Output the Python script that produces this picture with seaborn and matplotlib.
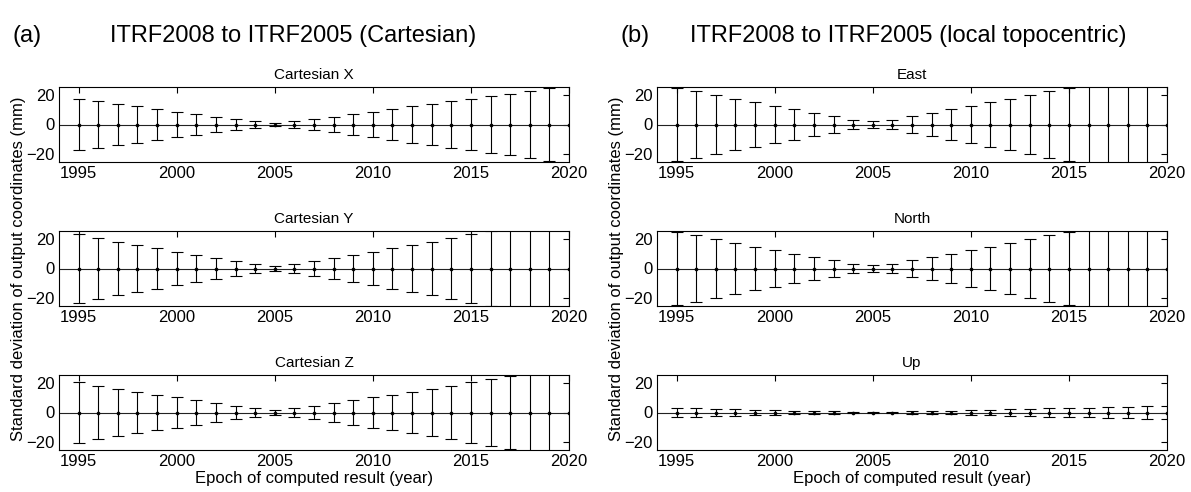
import numpy as np
import pandas as pd
import matplotlib
matplotlib.use("Agg")
import matplotlib.pyplot as plt
import seaborn as sns

# ---------------- data (standard deviations, mm) ----------------
years = list(range(1995, 2021))

cart_x = [17.7, 15.9, 14.1, 12.4, 10.6, 8.8, 7.1, 5.4, 3.7, 2.1, 1.3, 2.1, 3.7,
          5.4, 7.1, 8.8, 10.6, 12.4, 14.1, 15.9, 17.7, 19.4, 21.2, 23.0, 24.8, 26.5]
cart_y = [23.4, 20.8, 18.4, 16.1, 13.9, 11.6, 9.4, 7.2, 4.9, 3.1, 1.8, 3.1, 4.9,
          7.2, 9.4, 11.6, 13.9, 16.1, 18.4, 20.8, 23.4, 25.8, 28.0, 30.3, 32.6, 34.9]
cart_z = [20.7, 18.5, 16.4, 14.3, 12.3, 10.4, 8.4, 6.5, 4.6, 3.0, 1.7, 3.0, 4.6,
          6.5, 8.4, 10.4, 12.3, 14.3, 16.4, 18.5, 20.7, 22.8, 25.0, 27.1, 29.3, 31.4]
east = [25.3, 22.8, 20.1, 17.8, 15.2, 12.9, 10.4, 7.9, 5.7, 3.3, 2.7, 3.3, 5.7,
        7.9, 10.4, 12.9, 15.2, 17.8, 20.1, 22.8, 25.3, 27.9, 30.4, 33.0, 35.5, 38.1]
north = [25.3, 22.7, 19.9, 17.7, 15.0, 12.7, 10.2, 7.6, 5.5, 3.2, 2.5, 3.2, 5.5,
         7.6, 10.2, 12.7, 15.0, 17.7, 19.9, 22.7, 25.3, 27.9, 30.4, 33.0, 35.5, 38.1]
up = [3.1, 2.8, 2.5, 2.2, 1.9, 1.6, 1.3, 1.0, 0.7, 0.45, 0.3, 0.45, 0.7,
      1.0, 1.3, 1.6, 1.9, 2.2, 2.5, 2.8, 3.1, 3.4, 3.7, 4.0, 4.3, 4.6]

left_titles = ["Cartesian X", "Cartesian Y", "Cartesian Z"]
right_titles = ["East", "North", "Up"]
left_series = [cart_x, cart_y, cart_z]
right_series = [east, north, up]

xticks = [1995, 2000, 2005, 2010, 2015, 2020]
yticks = [-20, 0, 20]

# ---------------- style ----------------
sns.set_theme(style="white", rc={
    "axes.edgecolor": "black",
    "axes.linewidth": 0.8,
    "xtick.color": "black",
    "ytick.color": "black",
    "text.color": "black",
    "axes.labelcolor": "black",
})
plt.rcParams["font.family"] = ["Liberation Sans", "DejaVu Sans"]

W, H = 1191, 492
fig = plt.figure(figsize=(W / 100, H / 100), dpi=100)

ax_w = 510
ax_h = 75
col_x = [59, 657]
row_top = [87, 231, 375]


def make_ax(px, top):
    return fig.add_axes([px / W, 1 - (top + ax_h) / H, ax_w / W, ax_h / H])


def draw(ax, series, title, bottom_row):
    df = pd.DataFrame({"year": years, "zero": [0.0] * len(years), "sd": series})
    ax.axhline(0, color="#222222", lw=0.8, zorder=1)
    ax.errorbar(df["year"], df["zero"], yerr=df["sd"], fmt="none",
                ecolor="black", elinewidth=0.8, capsize=4.4, capthick=0.8,
                zorder=2)
    sns.scatterplot(data=df, x="year", y="zero", ax=ax, color="black",
                    s=7, linewidth=0, zorder=3, legend=False)
    ax.set_xlim(1994.0, 2020)
    ax.set_ylim(-25.7, 25.7)
    ax.set_xticks(xticks)
    ax.set_yticks(yticks)
    ax.tick_params(direction="in", top=True, right=True, length=4, width=0.8,
                   labelsize=12, pad=3)
    ax.set_title(title, fontsize=11, pad=6)
    ax.set_ylabel("")
    if bottom_row:
        ax.set_xlabel("Epoch of computed result (year)", fontsize=12, labelpad=1)
    else:
        ax.set_xlabel("")


for c, (series_list, titles) in enumerate([(left_series, left_titles),
                                            (right_series, right_titles)]):
    for r in range(3):
        ax = make_ax(col_x[c], row_top[r])
        draw(ax, series_list[r], titles[r], r == 2)
        if r == 1:
            ax.set_ylabel("Standard deviation of output coordinates (mm)",
                          fontsize=12, labelpad=0)

# panel headers
fig.text(13 / W, 1 - 36 / H, "(a)", fontsize=17, va="center", ha="left")
fig.text(110 / W, 1 - 36 / H, "ITRF2008 to ITRF2005 (Cartesian)", fontsize=17,
         va="center", ha="left")
fig.text(620 / W, 1 - 36 / H, "(b)", fontsize=17, va="center", ha="left")
fig.text(690 / W, 1 - 36 / H, "ITRF2008 to ITRF2005 (local topocentric)",
         fontsize=17, va="center", ha="left")

fig.savefig("out.png", dpi=100)
